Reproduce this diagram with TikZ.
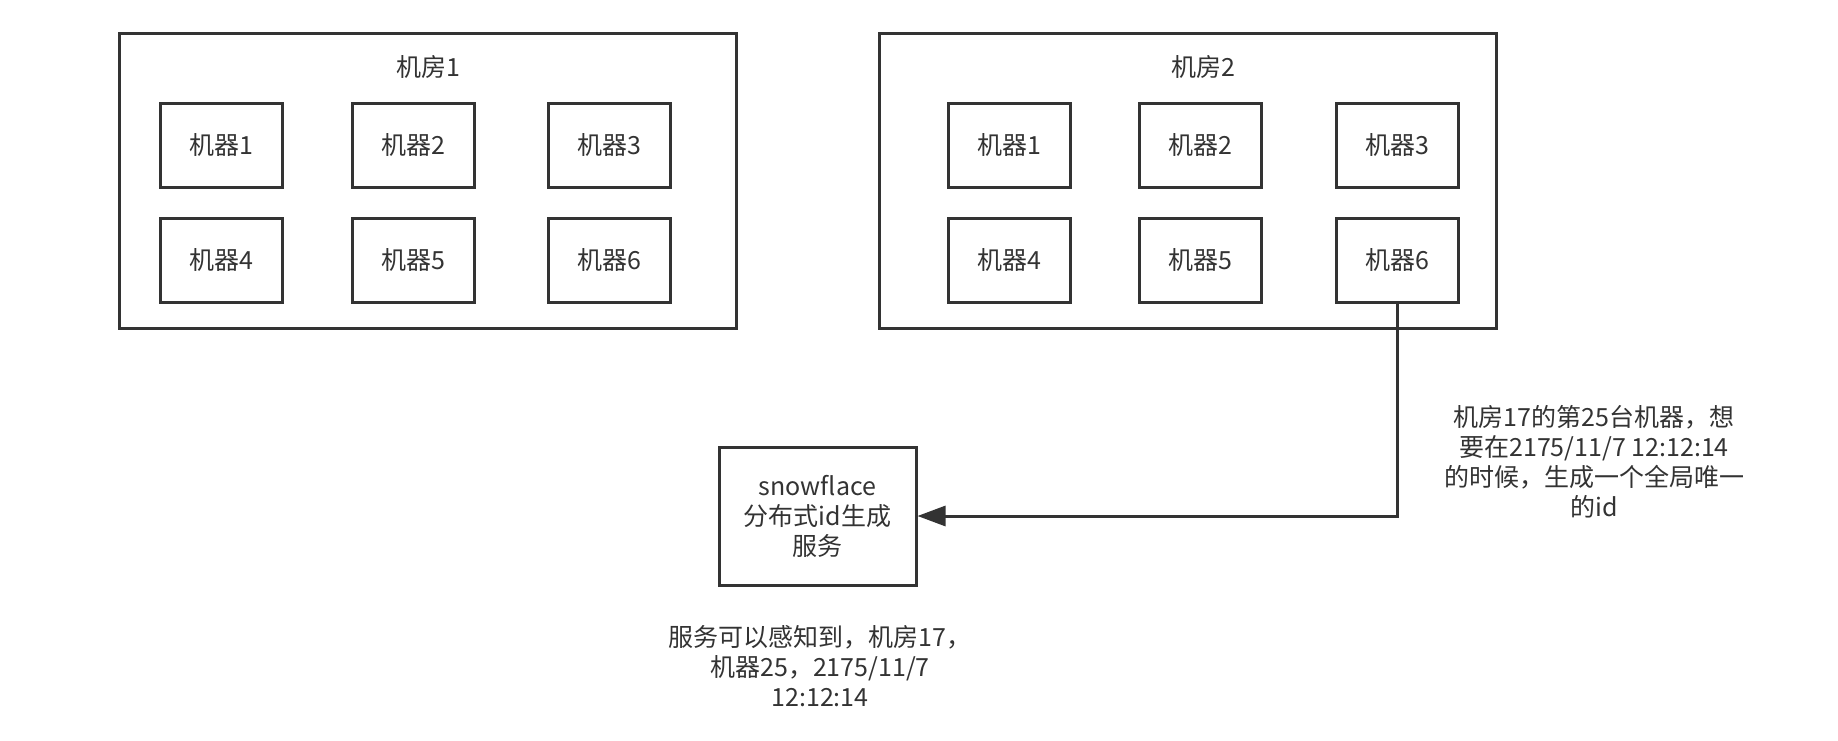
\documentclass[tikz,border=0pt]{standalone}
\usepackage{fontspec}
\setmainfont{Noto Sans CJK SC}
\usepackage{tikz}
\usetikzlibrary{arrows.meta}
\definecolor{inkgray}{HTML}{333333}
\tikzset{every picture/.style={line width=3pt}}
\tikzset{
    every node/.style={text=inkgray, font=\fontsize{25}{30}\selectfont, align=center},
    room/.style={draw=inkgray, minimum width=617, minimum height=295, inner sep=0pt},
    machine/.style={draw=inkgray, minimum width=122, minimum height=84, inner sep=0pt},
    service/.style={draw=inkgray, minimum width=197, minimum height=138, inner sep=0pt},
}

\begin{document}
\begin{tikzpicture}[x=1pt,y=1pt,yscale=-1,xscale=1]
    \useasboundingbox (0,0) rectangle (1838,740);
    \node[room] (room1) at (427.5,180.5) {};
    \node[room] (room2) at (1187.5,180.5) {};
    \node (room1title) at (428,67) {机房1};
    \node (room2title) at (1203,67) {机房2};
    \foreach \i/\x/\y in {1/221/145, 2/413/145, 3/609/145, 4/221/260, 5/413/260, 6/609/260}
        \node[machine] (m1\i) at (\x,\y) {机器\i};
    \foreach \i/\x/\y in {1/1009/145, 2/1200/145, 3/1397/145, 4/1009/260, 5/1200/260, 6/1397/260}
        \node[machine] (m2\i) at (\x,\y) {机器\i};
    \node[service] (service) at (817.5,516) {snowflace\\分布式id生成\\服务};
    \node (note1) at (1594,462) {机房17的第25台机器，想\\要在2175/11/7 12:12:14\\的时候，生成一个全局唯一\\的id};
    \node (note2) at (820,666) {服务可以感知到，机房17，\\机器25，2175/11/7\\12:12:14};
    \draw[draw=inkgray, -{Triangle[length=28pt,width=20pt]}] (m26.south) |- (service.east);
\end{tikzpicture}
\end{document}
